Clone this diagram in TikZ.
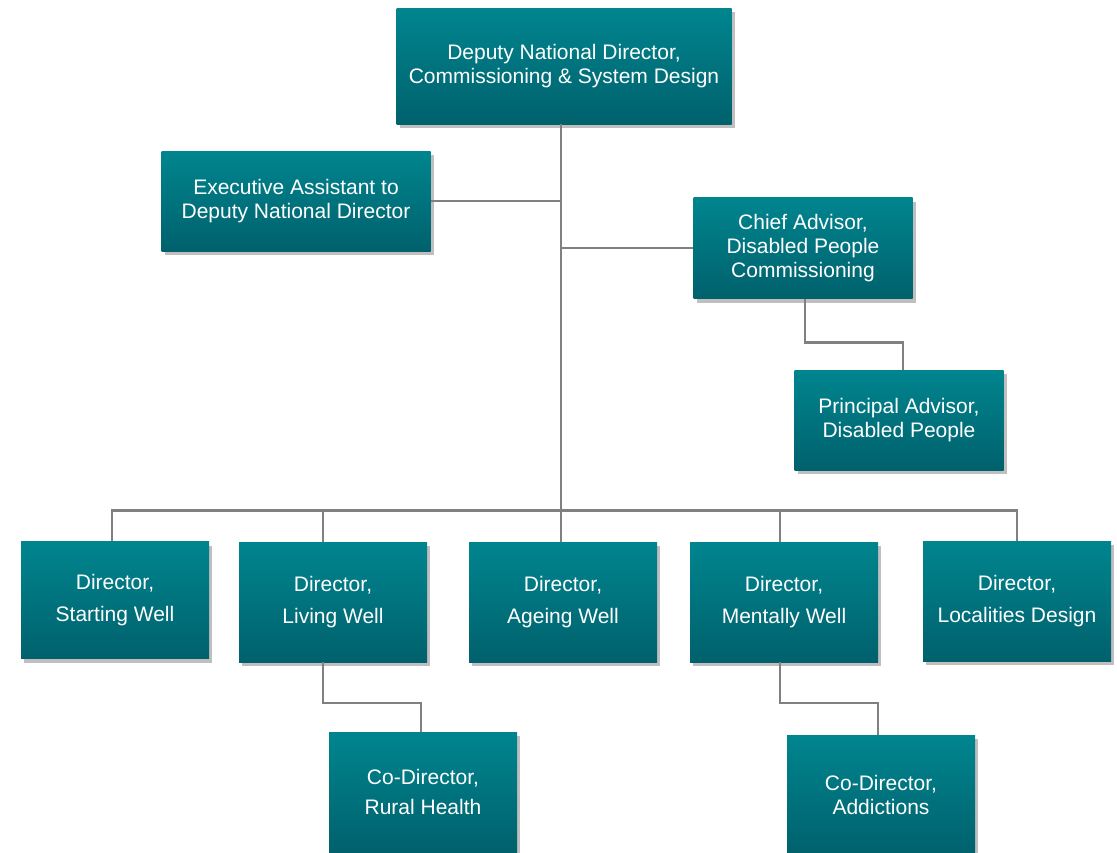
\documentclass[tikz,border=0pt]{standalone}
\usepackage{fontspec}
\setmainfont{Liberation Sans}
\usetikzlibrary{shadows, positioning}
\definecolor{tealtop}{RGB}{0,133,143}
\definecolor{tealbot}{RGB}{0,97,108}
\definecolor{linkgray}{RGB}{128,128,128}

\begin{document}
\begin{tikzpicture}[x=1pt, y=-1pt,
  orgbox/.style={rectangle, top color=tealtop, bottom color=tealbot, draw=none,
    text=white, align=center, inner sep=0pt, font=\fontsize{21}{24}\selectfont,
    drop shadow={shadow xshift=3pt, shadow yshift=-4pt, opacity=0.25, fill=black}},
  dirbox/.style={orgbox, minimum width=188, minimum height=120},
  link/.style={draw=linkgray, line width=2.5pt}]
  \useasboundingbox (0,0) rectangle (1117,852);

  % top of the tree
  \node[orgbox, minimum width=335, minimum height=116] (deputy) at (564,66)
    {Deputy National Director,\\Commissioning \& System Design};
  \node[orgbox, minimum width=269, minimum height=100] (exec) at (296,201)
    {Executive Assistant to\\Deputy National Director};
  \node[orgbox, minimum width=219, minimum height=101] (chief) at (803,248)
    {Chief Advisor,\\Disabled People\\Commissioning};
  \node[orgbox, minimum width=209, minimum height=100] (principal) at (899,420)
    {Principal Advisor,\\Disabled People};

  % directors
  \node[dirbox, minimum height=117] (starting) at (115,600) {Director,\\[8pt]Starting Well};
  \node[dirbox] (living) at (333,602) {Director,\\[8pt]Living Well};
  \node[dirbox] (ageing) at (563,602) {Director,\\[8pt]Ageing Well};
  \node[dirbox] (mentally) at (784,602) {Director,\\[8pt]Mentally Well};
  \node[dirbox] (localities) at (1017,601) {Director,\\[8pt]Localities Design};

  % co-directors
  \node[dirbox] (rural) at (423,792) {Co-Director,\\[6pt]Rural Health};
  \node[dirbox] (addictions) at (881,795) {Co-Director,\\Addictions};

  % connectors
  \coordinate (bus) at (561,511);
  \draw[link] (deputy.south -| bus) -- (bus);
  \draw[link] (exec.east) -- (exec.east -| bus);
  \draw[link] (chief.west) -- (chief.west -| bus);
  \draw[link] ([xshift=2pt]chief.south) -- ++(0,44) -| ([xshift=4pt]principal.north);
  \draw[link] ([xshift=-3pt]starting.north) -- ++(0,-31) -| (localities.north);
  \foreach \n/\dx in {living/-10, ageing/-2, mentally/-4}
    \draw[link] ([xshift=\dx pt]\n.north) -- ([xshift=\dx pt]\n.north |- bus);
  \draw[link] ([xshift=-10pt]living.south) -- ++(0,41) -| ([xshift=-2pt]rural.north);
  \draw[link] ([xshift=-4pt]mentally.south) -- ++(0,41) -| ([xshift=-3pt]addictions.north);
\end{tikzpicture}
\end{document}
